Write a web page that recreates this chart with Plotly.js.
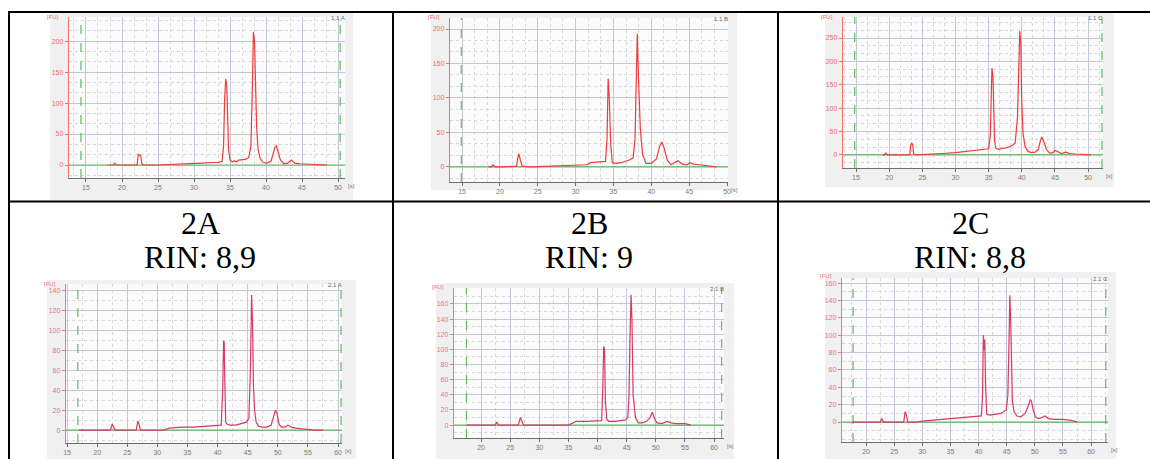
<!DOCTYPE html>
<html><head><meta charset="utf-8">
<script src="https://cdn.plot.ly/plotly-3.0.1.min.js"></script>
<style>html,body{margin:0;padding:0;background:#fff}#chart{width:1150px;height:459px}</style>
</head><body><div id="chart"></div>
<script>
// ---------------- DATA ----------------
const groupLabels = ["2A", "2B", "2C"];
const rinLabels = ["RIN: 8,9", "RIN: 9", "RIN: 8,8"];
const sampleNames = ["1.1 A", "1.1 B", "1.1 C", "2.1 A", "2.1 B", "2.1 C"];

const xTicks_top = [15, 20, 25, 30, 35, 40, 45, 50];
const xTicks_bottomA = [15, 20, 25, 30, 35, 40, 45, 50, 55, 60];
const xTicks_bottom = [20, 25, 30, 35, 40, 45, 50, 55, 60];
const yTicks_200 = [0, 50, 100, 150, 200];
const yTicks_250 = [0, 50, 100, 150, 200, 250];
const yTicks_140 = [0, 20, 40, 60, 80, 100, 120, 140];
const yTicks_160 = [0, 20, 40, 60, 80, 100, 120, 140, 160];

// electropherogram traces: time [s] and fluorescence [FU]
const time_11A = [18.0, 18.8, 19.0, 19.2, 20.0, 21.2, 22.1, 22.25, 22.4, 22.6, 22.75, 23.0, 25.0, 28.0, 30.0, 31.0, 32.5, 33.4, 33.9, 34.1, 34.25, 34.4, 34.55, 34.65, 34.8, 35.0, 35.3, 35.6, 35.9, 36.2, 36.6, 37.1, 37.6, 37.9, 38.1, 38.25, 38.4, 38.55, 38.7, 38.9, 39.2, 39.6, 40.1, 40.7, 41.0, 41.25, 41.45, 41.7, 42.0, 42.5, 43.0, 43.5, 44.0, 44.7, 46.0, 47.5, 48.5];
const fu_11A   = [0, 0, 3, 0, 0, 0, 0, 17, 16, 15, 2, 0, 0, 1, 2, 3, 4, 4, 6, 30, 105, 139, 128, 65, 25, 8, 5, 7, 5, 8, 8, 9, 12, 30, 120, 215, 200, 105, 60, 25, 10, 4, 3, 6, 18, 29, 31, 22, 8, 2, 3, 8, 3, 2, 1, 0, 0];

const time_11B = [18.5, 18.9, 19.1, 19.4, 20.5, 21.5, 22.2, 22.35, 22.5, 22.7, 22.95, 24.0, 27.0, 30.0, 31.5, 32.0, 33.5, 33.95, 34.15, 34.3, 34.45, 34.65, 34.85, 35.3, 36.0, 36.6, 37.1, 37.6, 37.85, 38.0, 38.15, 38.3, 38.55, 38.85, 39.3, 40.0, 40.7, 41.1, 41.4, 41.7, 42.1, 42.6, 43.1, 43.5, 44.1, 44.7, 45.1, 45.6, 46.3, 47.0, 47.8, 48.6];
const fu_11B   = [0, 0, 3, 0, 0, 0, 1, 12, 19, 10, 1, 0, 1, 2, 3, 6, 7, 8, 40, 128, 100, 30, 6, 5, 6, 8, 10, 13, 40, 120, 193, 130, 55, 18, 5, 5, 12, 30, 36, 27, 10, 3, 6, 9, 4, 3, 6, 4, 3, 2, 1, 0];

const time_11C = [19.0, 19.3, 19.5, 19.7, 20.5, 21.5, 23.1, 23.25, 23.4, 23.55, 23.7, 24.0, 26.0, 28.0, 30.0, 32.0, 34.0, 35.0, 35.25, 35.4, 35.5, 35.65, 35.75, 35.9, 36.1, 36.5, 37.0, 37.6, 38.3, 39.0, 39.35, 39.55, 39.7, 39.85, 40.0, 40.2, 40.5, 40.9, 41.4, 42.0, 42.5, 42.8, 43.0, 43.3, 43.7, 44.2, 44.7, 45.0, 45.4, 46.0, 46.6, 47.2, 48.0, 49.0, 50.4];
const fu_11C   = [0, 0, 4, 0, 0, 0, 0, 20, 26, 22, 2, 0, 1, 3, 5, 8, 11, 13, 40, 120, 186, 170, 90, 30, 14, 12, 14, 15, 18, 25, 80, 200, 265, 240, 111, 45, 18, 8, 5, 6, 12, 30, 38, 30, 12, 4, 5, 10, 7, 3, 6, 3, 2, 1, 0];

const time_21A = [17.0, 20.0, 22.2, 22.5, 22.7, 23.0, 25.0, 26.5, 26.75, 26.9, 27.2, 29.0, 31.0, 32.0, 34.0, 36.0, 38.0, 40.0, 40.6, 40.85, 41.0, 41.1, 41.2, 41.35, 41.55, 42.0, 43.0, 44.0, 44.8, 45.2, 45.45, 45.65, 45.8, 45.95, 46.15, 46.4, 46.8, 47.4, 48.2, 48.9, 49.3, 49.6, 49.85, 50.2, 50.6, 51.2, 51.7, 52.2, 53.0, 54.5, 56.0, 57.5];
const fu_21A   = [0, 0, 0, 6, 3, 0, 0, 0, 9, 7, 0, 0, 0, 2, 3, 3, 4, 5, 5, 40, 90, 88, 50, 8, 6, 5, 5, 7, 8, 12, 60, 136, 110, 45, 20, 8, 4, 3, 3, 5, 14, 20, 17, 6, 3, 3, 5, 3, 2, 1, 0, 0];

const time_21B = [17.5, 20.0, 22.4, 22.7, 23.0, 25.0, 26.4, 26.75, 26.95, 27.3, 29.0, 32.0, 35.0, 35.8, 36.3, 38.0, 40.0, 40.7, 40.9, 41.05, 41.2, 41.35, 41.6, 42.0, 43.0, 44.0, 44.8, 45.2, 45.4, 45.55, 45.75, 45.9, 46.1, 46.5, 47.0, 47.6, 48.4, 49.0, 49.4, 49.8, 50.2, 51.0, 51.5, 52.0, 52.6, 53.5, 55.0, 56.0];
const fu_21B   = [0, 0, 0, 4, 0, 0, 0, 10, 7, 0, 0, 0, 0, 3, 5, 5, 6, 6, 50, 104, 100, 30, 7, 5, 5, 6, 7, 10, 40, 110, 172, 140, 40, 10, 3, 3, 5, 10, 17, 8, 3, 2, 4, 5, 3, 2, 2, 0];

const time_21C = [17.5, 20.0, 22.5, 22.8, 23.1, 25.0, 26.7, 26.95, 27.15, 27.4, 29.0, 30.0, 32.0, 34.0, 36.0, 38.0, 40.0, 40.5, 40.7, 40.85, 41.0, 41.1, 41.25, 41.45, 42.0, 43.0, 44.0, 44.9, 45.2, 45.4, 45.55, 45.7, 45.85, 46.0, 46.3, 46.8, 47.5, 48.3, 48.9, 49.2, 49.4, 49.7, 50.1, 50.6, 51.2, 51.8, 52.4, 53.5, 55.0, 56.5, 57.5];
const fu_21C   = [0, 0, 0, 4, 0, 0, 0, 12, 9, 0, 0, 1, 2, 3, 4, 5, 6, 7, 30, 100, 83, 95, 40, 9, 8, 9, 10, 14, 30, 90, 146, 120, 60, 25, 12, 7, 6, 10, 20, 26, 24, 14, 6, 4, 5, 7, 4, 3, 3, 2, 0];

// analysis window markers (green dashed lines) [s]
const window_11A = [14.3, 50.3];
const window_11B = [14.9];
const window_11C = [14.8, 52.1];
const window_21A = [16.8, 60.5];
const window_21B = [17.5, 61.3];
const window_21C = [17.7, 62.6];

// ---------------- LAYOUT HELPERS ----------------
const W = 1150, H = 459;
const fx = p => p / W;
const fy = p => 1 - p / H;

const panels = [
  {t: time_11A, fu: fu_11A, win: window_11A, xt: xTicks_top, yt: yTicks_200,
   frame: [50, 353, 13, 200], plot: [69, 345, 17, 178], xr: [12.64, 50.97], yr: [-21, 239], xm: 5/3, ym: 50/3, top: true},
  {t: time_11B, fu: fu_11B, win: window_11B, xt: xTicks_top, yt: yTicks_200,
   frame: [431, 737, 13, 190], plot: [450, 728, 18, 182], xr: [13.41, 50.13], yr: [-22, 216], xm: 5/3, ym: 50/3, top: true},
  {t: time_11C, fu: fu_11C, win: window_11C, xt: xTicks_top, yt: yTicks_250,
   frame: [825, 1114, 13, 187], plot: [843, 1103, 17, 168], xr: [13.04, 52.25], yr: [-28, 295], xm: 5/3, ym: 50/3, top: true},
  {t: time_21A, fu: fu_21A, win: window_21A, xt: xTicks_bottomA, yt: yTicks_140,
   frame: [47, 356, 280, 459], plot: [66, 342, 284, 443], xr: [14.83, 60.66], yr: [-13, 147], xm: 2.5, ym: 10, top: false},
  {t: time_21B, fu: fu_21B, win: window_21B, xt: xTicks_bottom, yt: yTicks_160,
   frame: [436, 734, 283, 459], plot: [454, 724, 288, 438], xr: [15.36, 61.7], yr: [-17, 181], xm: 2.5, ym: 10, top: false},
  {t: time_21C, fu: fu_21C, win: window_21C, xt: xTicks_bottom, yt: yTicks_160,
   frame: [825, 1116, 272, 459], plot: [842, 1108, 278, 442], xr: [15.73, 63.0], yr: [-23, 166], xm: 2.5, ym: 10, top: false}
];

const traces = [];
const shapes = [];
const annotations = [];
const layout = {
  width: W, height: H, autosize: false,
  margin: {l: 0, r: 0, t: 0, b: 0, pad: 0},
  paper_bgcolor: '#ffffff', plot_bgcolor: 'rgba(0,0,0,0)',
  showlegend: false,
  font: {family: 'Liberation Sans, Arial, sans-serif', size: 7, color: '#777'}
};

// frames (screenshot backgrounds)
panels.forEach(p => {
  shapes.push({type: 'rect', xref: 'paper', yref: 'paper', layer: 'below',
    x0: fx(p.frame[0]), x1: fx(p.frame[1]), y0: fy(p.frame[3]), y1: fy(p.frame[2]),
    fillcolor: '#f0f0f0', line: {width: 0}});
});

panels.forEach((p, i) => {
  const n = i === 0 ? '' : String(i + 1);
  const xa = 'x' + n, ya = 'y' + n;
  const redLine = p.top ? '#f07070' : '#ec7895';
  const redText = p.top ? '#f06a6a' : '#e8708e';
  const traceCol = p.top ? '#ee3c3c' : '#d63a66';
  const green = '#62bb62';

  layout['xaxis' + n] = {
    domain: [fx(p.plot[0]), fx(p.plot[1])], anchor: ya, range: p.xr,
    tickmode: 'array', tickvals: p.xt, ticktext: p.xt.map(String),
    showline: true, linecolor: '#6e6e6e', linewidth: 1,
    ticks: 'outside', ticklen: 3, tickcolor: '#6e6e6e',
    tickfont: {size: 7, color: '#7a7a7a'},
    showgrid: true, gridcolor: '#c4c8d6', gridwidth: 1,
    minor: {tickmode: 'linear', tick0: 0, dtick: p.xm, showgrid: true, gridcolor: '#d9d9d9', griddash: 'dot', gridwidth: 1},
    zeroline: false, automargin: false, fixedrange: true
  };
  layout['yaxis' + n] = {
    domain: [fy(p.plot[3]), fy(p.plot[2])], anchor: xa, range: p.yr,
    tickmode: 'array', tickvals: p.yt, ticktext: p.yt.map(String),
    showline: true, linecolor: redLine, linewidth: 1.2,
    ticks: 'outside', ticklen: 3, tickcolor: redLine,
    tickfont: {size: 7, color: redText},
    showgrid: true, gridcolor: '#c4c8d6', gridwidth: 1,
    minor: {tickmode: 'linear', tick0: 0, dtick: p.ym, showgrid: true, gridcolor: '#d9d9d9', griddash: 'dot', gridwidth: 1},
    zeroline: false, automargin: false, fixedrange: true
  };

  // plot area background
  shapes.push({type: 'rect', xref: xa + ' domain', yref: ya + ' domain', layer: 'below',
    x0: 0, x1: 1, y0: 0, y1: 1, fillcolor: '#fbfbfb', line: {width: 0}});

  // baseline at 0 FU (spans the axis range)
  traces.push({type: 'scatter', mode: 'lines', x: p.xr, y: [0, 0], xaxis: xa, yaxis: ya,
    line: {color: green, width: 1.2}, hoverinfo: 'skip'});
  // analysis window markers
  p.win.forEach(w => {
    traces.push({type: 'scatter', mode: 'lines', x: [w, w], y: p.yr, xaxis: xa, yaxis: ya,
      line: {color: green, width: 1.2, dash: 'dash'}, hoverinfo: 'skip'});
  });

  traces.push({type: 'scatter', mode: 'lines', x: p.t, y: p.fu, xaxis: xa, yaxis: ya,
    line: {color: traceCol, width: 1.2}, hoverinfo: 'skip'});

  // small labels
  annotations.push({xref: 'paper', yref: 'paper', x: fx(p.plot[0] - 8), y: fy(p.frame[2] + 4),
    xanchor: 'right', yanchor: 'middle', text: '[FU]', showarrow: false,
    font: {size: 6, color: redText}});
  annotations.push({xref: 'paper', yref: 'paper', x: fx(p.plot[1] + 1), y: fy(p.plot[3] + 8),
    xanchor: 'left', yanchor: 'middle', text: '[s]', showarrow: false,
    font: {size: 6, color: '#7a7a7a'}});
  annotations.push({xref: 'paper', yref: 'paper', x: fx(p.plot[1] + 2), y: fy(p.plot[2] + 1),
    xanchor: 'right', yanchor: 'middle', text: sampleNames[i], showarrow: false,
    font: {size: 6, color: '#666'}});
});

// group headings in the table
const colCenters = [200, 589, 970];
groupLabels.forEach((g, k) => {
  annotations.push({xref: 'paper', yref: 'paper', x: fx(colCenters[k]), y: fy(223),
    xanchor: 'center', yanchor: 'middle', text: g, showarrow: false,
    font: {family: 'Liberation Serif, Times New Roman, serif', size: 32, color: '#000'}});
  annotations.push({xref: 'paper', yref: 'paper', x: fx(colCenters[k]), y: fy(257),
    xanchor: 'center', yanchor: 'middle', text: rinLabels[k], showarrow: false,
    font: {family: 'Liberation Serif, Times New Roman, serif', size: 32, color: '#000'}});
});

// table rules
const rule = {color: '#000', width: 2};
shapes.push({type: 'line', xref: 'paper', yref: 'paper', x0: fx(8), x1: 1, y0: fy(12), y1: fy(12), line: rule});
shapes.push({type: 'line', xref: 'paper', yref: 'paper', x0: fx(8), x1: 1, y0: fy(201.5), y1: fy(201.5), line: rule});
[9, 393, 778].forEach(xv => {
  shapes.push({type: 'line', xref: 'paper', yref: 'paper', x0: fx(xv), x1: fx(xv), y0: fy(11), y1: 0, line: rule});
});

layout.shapes = shapes;
layout.annotations = annotations;

Plotly.newPlot('chart', traces, layout, {staticPlot: true, displayModeBar: false});
</script>
</body></html>
